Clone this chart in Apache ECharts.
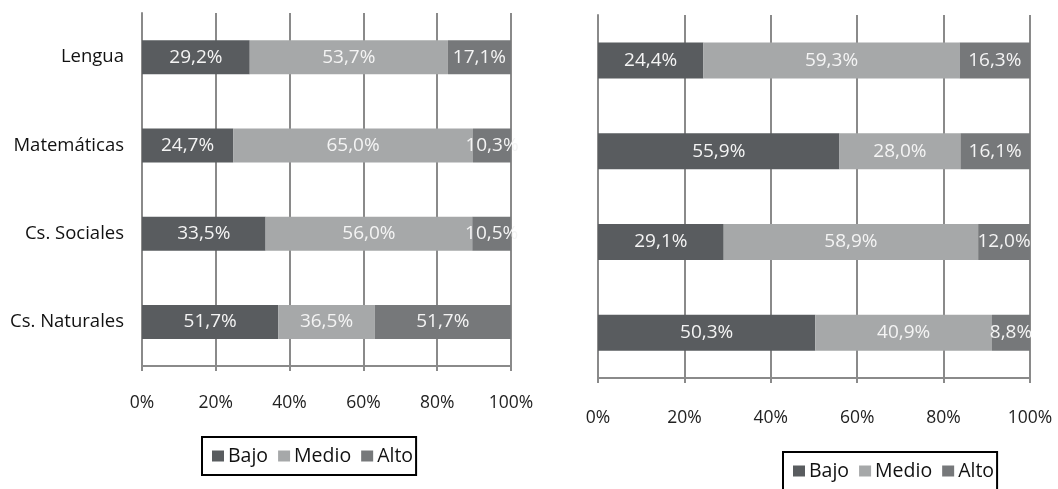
<!DOCTYPE html>
<html>
<head>
<meta charset="utf-8">
<script src="https://cdn.jsdelivr.net/npm/echarts@6/dist/echarts.min.js"></script>
<style>
  html, body { margin: 0; padding: 0; background: #fff; }
  #chart { width: 1058px; height: 489px; }
</style>
</head>
<body>
<div id="chart"></div>
<script>
// categories top to bottom
const categories = ['Lengua', 'Matemáticas', 'Cs. Sociales', 'Cs. Naturales']
const levels = ['Bajo', 'Medio', 'Alto']

// left chart (values as labelled; bars are shown as 100% stacked)
const leftBajo = [29.2, 24.7, 33.5, 51.7]
const leftMedio = [53.7, 65.0, 56.0, 36.5]
const leftAlto = [17.1, 10.3, 10.5, 51.7]

// right chart
const rightBajo = [24.4, 55.9, 29.1, 50.3]
const rightMedio = [59.3, 28.0, 58.9, 40.9]
const rightAlto = [16.3, 16.1, 12.0, 8.8]

const colors = { Bajo: '#595c5f', Medio: '#a6a8a9', Alto: '#76787a' }
const FONT = '"Open Sans", sans-serif'
const gridColor = '#8a8a8a'

function pctOf(arr, all) {
  return arr.map((v, i) => {
    const tot = all.reduce((s, a) => s + a[i], 0)
    return { value: v / tot * 100, raw: v }
  })
}
const fmt = p => p.data.raw.toFixed(1).replace('.', ',') + '%'

function buildSeries(sets, idx, barW) {
  return sets.map((arr, k) => ({
    name: levels[k],
    type: 'bar',
    stack: 'g' + idx,
    xAxisIndex: idx,
    yAxisIndex: idx,
    barWidth: barW,
    data: pctOf(arr, sets),
    itemStyle: { color: colors[levels[k]] },
    label: {
      show: true,
      position: 'inside',
      color: '#f4f4f4',
      fontFamily: FONT,
      fontSize: 19,
      formatter: fmt,
    },
  }))
}

const xAxisBase = {
  type: 'value',
  min: 0,
  max: 100,
  interval: 20,
  axisLine: { show: true, lineStyle: { color: gridColor, width: 2 } },
  axisTick: { show: true, length: 5, lineStyle: { color: gridColor, width: 2 } },
  splitLine: { show: true, lineStyle: { color: gridColor, width: 2 } },
  axisLabel: { color: '#222', fontFamily: FONT, fontSize: 17.5, formatter: '{value}%' },
}

const legendBase = {
  data: levels,
  orient: 'horizontal',
  icon: 'rect',
  itemWidth: 12,
  itemHeight: 11,
  itemGap: 10,
  borderColor: '#000',
  borderWidth: 2,
  textStyle: { color: '#111', fontFamily: FONT, fontSize: 19.5, padding: [0, 0, 0, -1] },
}

const chart = echarts.init(document.getElementById('chart'), null, { renderer: 'canvas' })
chart.setOption({
  animation: false,
  textStyle: { fontFamily: FONT },
  grid: [
    { left: 142, top: 13, width: 369, height: 353 },
    { left: 598, top: 15, width: 432, height: 363 },
  ],
  xAxis: [
    { ...xAxisBase, gridIndex: 0, axisLabel: { ...xAxisBase.axisLabel, margin: 28 } },
    { ...xAxisBase, gridIndex: 1, axisLabel: { ...xAxisBase.axisLabel, margin: 31 } },
  ],
  yAxis: [
    {
      type: 'category',
      gridIndex: 0,
      inverse: true,
      data: categories,
      axisLine: { lineStyle: { color: gridColor, width: 2 } },
      axisTick: { length: 5, lineStyle: { color: gridColor, width: 2 } },
      axisLabel: { color: '#111', fontFamily: FONT, fontSize: 18.5, margin: 18 },
    },
    {
      type: 'category',
      gridIndex: 1,
      inverse: true,
      data: categories,
      axisLine: { lineStyle: { color: gridColor, width: 2 } },
      axisTick: { show: false },
      axisLabel: { show: false },
    },
  ],
  legend: [
    { ...legendBase, left: 202, top: 437, padding: [9, 3, 9, 10] },
    { ...legendBase, left: 783, top: 452, padding: [9, 3, 12, 10] },
  ],
  series: [
    ...buildSeries([leftBajo, leftMedio, leftAlto], 0, 34),
    ...buildSeries([rightBajo, rightMedio, rightAlto], 1, 36),
  ],
})
</script>
</body>
</html>
